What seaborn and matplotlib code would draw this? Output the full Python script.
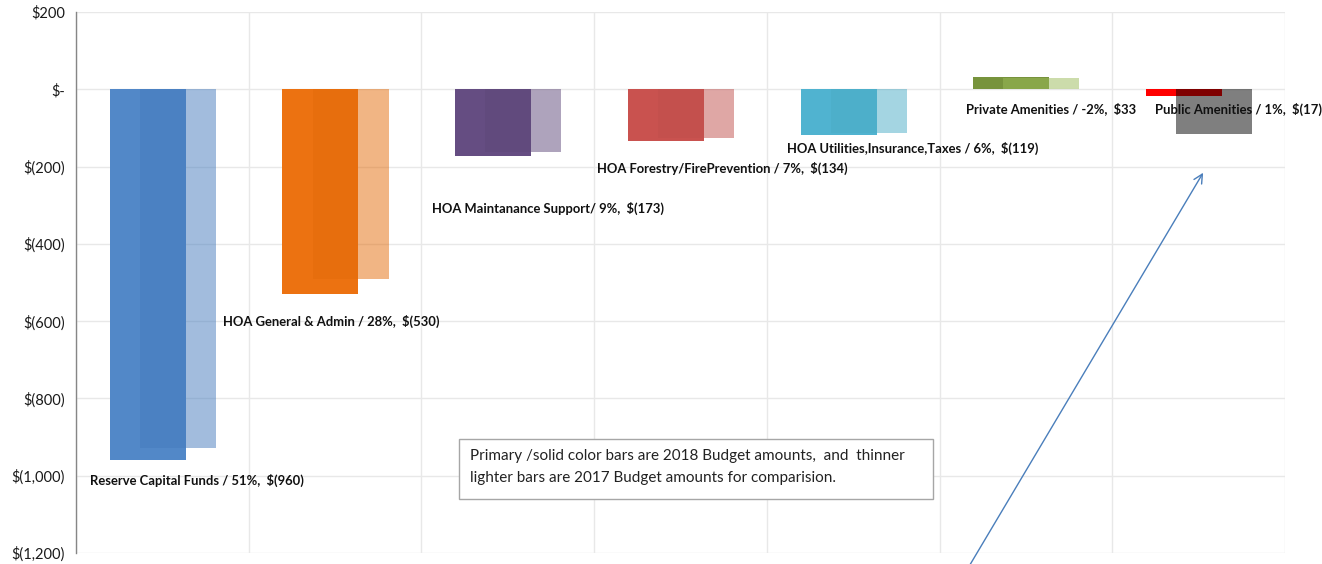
import numpy as np
import pandas as pd
import matplotlib
matplotlib.use("Agg")
import matplotlib.pyplot as plt
import matplotlib.patches as mpatches
from matplotlib.ticker import FuncFormatter
import seaborn as sns

# ---------------- data ----------------
categories = ["Reserve Capital Funds", "HOA General & Admin", "HOA Maintanance Support",
              "HOA Forestry/FirePrevention", "HOA Utilities,Insurance,Taxes",
              "Private Amenities", "Public Amenities"]
label_names = ["Reserve Capital Funds /", "HOA General & Admin /", "HOA Maintanance Support/",
               "HOA Forestry/FirePrevention /", "HOA Utilities,Insurance,Taxes /",
               "Private Amenities /", "Public Amenities /"]
budget_2018 = [-960, -530, -173, -134, -119, 33, -17]
budget_2017 = [-928, -490, -161, -127, -113, 29, -116]
pct_2018 = [51, 28, 9, 7, 6, -2, 1]
yticks = [200, 0, -200, -400, -600, -800, -1000, -1200]
note_text = ("Primary /solid color bars are 2018 Budget amounts,  and  thinner\n"
             "lighter bars are 2017 Budget amounts for comparision.")

# ---------------- styles ----------------
colors_2018 = ["#5288C8", "#EC7211", "#654D82", "#C9524F", "#50B3D0", "#77933C", "#FF0000"]
colors_2017 = ["#467BBD", "#E46C0A", "#5F497A", "#C0504D", "#4BACC6", "#9BBB59", "#000000"]
label_pos = [(-0.42, -1013), (0.351, -602), (1.561, -309), (2.516, -206),
             (3.617, -154), (4.653, -51), (5.748, -51)]

sns.set_style("white")
plt.rcParams["font.family"] = ["Lato", "DejaVu Sans"]

W, H = 1322, 564
fig = plt.figure(figsize=(W / 100, H / 100), dpi=100)
ax = fig.add_axes([76 / W, 11 / H, (1285 - 76) / W, (553 - 12) / H])

idx = np.arange(len(categories))
df18 = pd.DataFrame({"x": idx - 0.085, "value": budget_2018, "cat": categories})
df17 = pd.DataFrame({"x": idx + 0.09, "value": budget_2017, "cat": categories})

sns.barplot(data=df18, x="x", y="value", hue="cat", palette=dict(zip(categories, colors_2018)),
            native_scale=True, width=0.44, dodge=False, errorbar=None, legend=False,
            saturation=1, linewidth=0, ax=ax, zorder=3)
sns.barplot(data=df17, x="x", y="value", hue="cat", palette=dict(zip(categories, colors_2017)),
            native_scale=True, width=0.44, dodge=False, errorbar=None, legend=False,
            saturation=1, linewidth=0, alpha=0.5, ax=ax, zorder=4)

ax.set_xlim(-0.5, len(categories) - 0.5)
ax.set_ylim(-1200, 200)
ax.set_xlabel("")
ax.set_ylabel("")


def money(v, pos=None):
    if v == 0:
        return "$-"
    if v < 0:
        return "$({:,.0f})".format(-v)
    return "${:,.0f}".format(v)


ax.set_yticks(yticks)
ax.yaxis.set_major_formatter(FuncFormatter(money))
ax.set_xticks(np.arange(-0.5, len(categories)))
ax.set_xticklabels([])
ax.tick_params(axis="x", length=0)
ax.tick_params(axis="y", direction="out", length=4.5, width=1, color="#868686",
               labelsize=10.5, labelcolor="#1a1a1a", pad=3.5)
ax.grid(True, color="#E8E8E8", linewidth=1, zorder=0)
ax.set_axisbelow(True)
for s in ["top", "right", "bottom"]:
    ax.spines[s].set_visible(False)
ax.spines["left"].set_color("#868686")
ax.spines["left"].set_linewidth(1)

for name, pct, val, (lx, ly) in zip(label_names, pct_2018, budget_2018, label_pos):
    ax.text(lx, ly, f"{name} {pct}%,  {money(val)}", fontsize=9.4, fontweight="bold",
            ha="left", va="center", color="#111111", zorder=6)

# note box
rect = mpatches.Rectangle((459 / W, 1 - 499 / H), (933 - 459) / W, (499 - 439) / H,
                          transform=fig.transFigure, facecolor="white", edgecolor="#A6A6A6",
                          linewidth=1, zorder=7)
fig.patches.append(rect)
fig.text(470 / W, 1 - 467 / H, note_text, fontsize=11, ha="left", va="center",
         color="#222222", linespacing=1.8, zorder=8)

# arrow
ax.annotate("", xy=(6.026, -216), xytext=(4.67, -1235), annotation_clip=False,
            arrowprops=dict(arrowstyle="->", color="#4A7EBB", lw=1, mutation_scale=16,
                            shrinkA=0, shrinkB=0), zorder=8)

fig.savefig("out.png", dpi=100)
